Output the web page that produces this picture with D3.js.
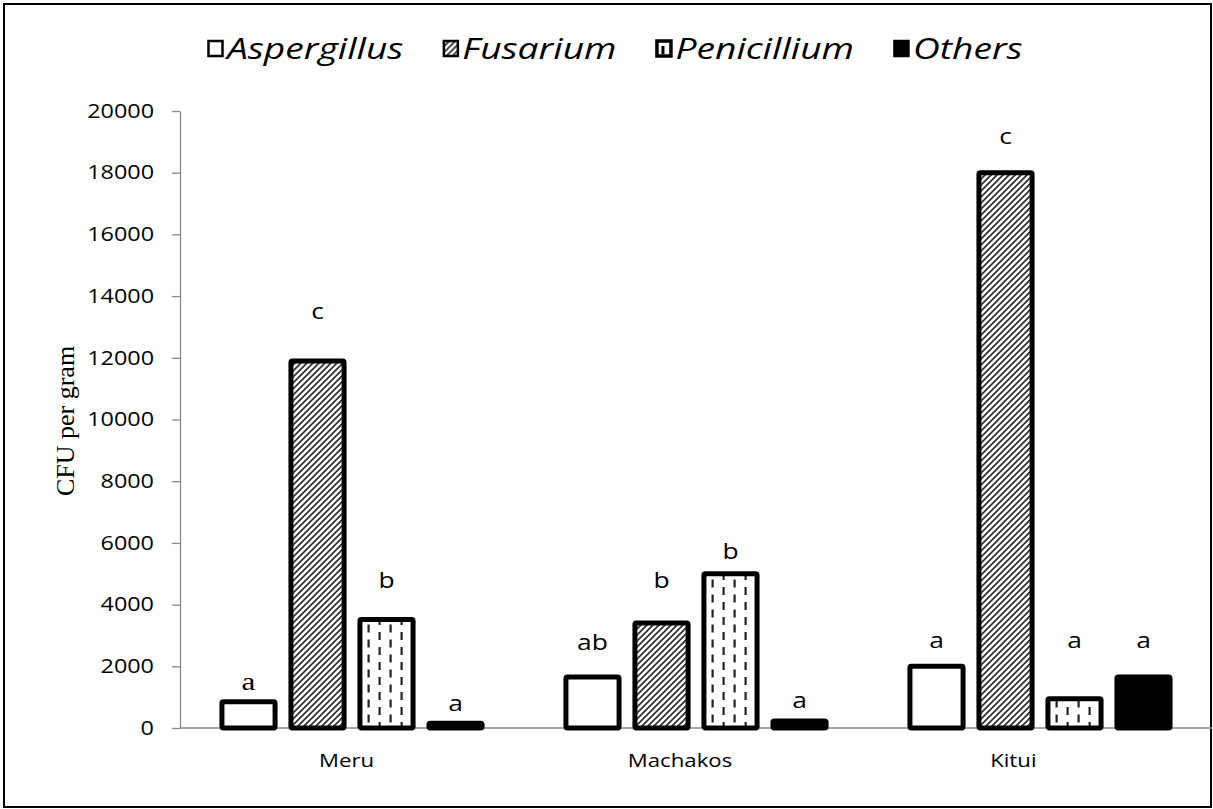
<!DOCTYPE html>
<html>
<head>
<meta charset="utf-8">
<script src="https://cdn.jsdelivr.net/npm/d3@7/dist/d3.min.js"></script>
<style>
  body { margin: 0; background: #fff; }
  svg { display: block; }
</style>
</head>
<body>
<svg id="chart" width="1213" height="809"></svg>
<script>
// ---- data ----
const categories = ["Meru", "Machakos", "Kitui"];
const seriesNames = ["Aspergillus", "Fusarium", "Penicillium", "Others"];
const aspergillus = [850, 1650, 2000];
const fusarium = [11900, 3400, 18000];
const penicillium = [3520, 5000, 950];
const others = [150, 230, 1650];
const letters = [
  ["a", "c", "b", "a"],
  ["ab", "b", "b", "a"],
  ["a", "c", "a", "a"]
];
// height (in CFU units) at which each significance letter sits
const letterHeights = [
  [1520, 13500, 4800, 810],
  [2790, 4800, 5740, 900],
  [2850, 19190, 2850, 2850]
];
const yTicks = [0, 2000, 4000, 6000, 8000, 10000, 12000, 14000, 16000, 18000, 20000];

const values = [aspergillus, fusarium, penicillium, others];

// ---- layout ----
const svg = d3.select("#chart");
const W = 1213, H = 809;
const SX = 1.2; // horizontal stretch of the text in the original
const SXL = 1.26; // legend stretch

const y = d3.scaleLinear().domain([0, 20000]).range([728, 111]);
const x0 = d3.scaleBand().domain(categories).range([180, 1212]).padding(0);
const xLab = d3.scaleBand().domain(categories).range([180, 1180]).padding(0);
const x1 = d3.scaleBand().domain(seriesNames).range([-138, 138]).paddingInner(0.23).paddingOuter(0.115);

// patterns
const defs = svg.append("defs");
const hatch = defs.append("pattern").attr("id", "hatch").attr("patternUnits", "userSpaceOnUse")
  .attr("width", 6).attr("height", 6);
hatch.append("rect").attr("width", 6).attr("height", 6).attr("fill", "#fff");
hatch.append("path").attr("d", "M-1,7 L7,-1 M-4,4 L4,-4 M2,10 L10,2")
  .attr("stroke", "#2a2a2a").attr("stroke-width", 1.6);

const dash = defs.append("pattern").attr("id", "dash").attr("patternUnits", "userSpaceOnUse")
  .attr("width", 22).attr("height", 15);
dash.append("rect").attr("width", 22).attr("height", 15).attr("fill", "#fff");
dash.append("rect").attr("x", 4.5).attr("y", 2).attr("width", 2.2).attr("height", 8).attr("fill", "#222");
dash.append("rect").attr("x", 15.5).attr("y", 9.5).attr("width", 2.2).attr("height", 8).attr("fill", "#222");
dash.append("rect").attr("x", 15.5).attr("y", -5.5).attr("width", 2.2).attr("height", 8).attr("fill", "#222");

const fills = { Aspergillus: "#fff", Fusarium: "url(#hatch)", Penicillium: "url(#dash)", Others: "#000" };

// outer frame
svg.append("rect").attr("x", 4).attr("y", 4).attr("width", W - 6).attr("height", H - 6)
  .attr("fill", "none").attr("stroke", "#000").attr("stroke-width", 2);

// y axis
const yAxis = svg.append("g").attr("transform", "translate(180,0)")
  .call(d3.axisLeft(y).tickValues(yTicks).tickSize(8).tickSizeOuter(0).tickFormat(d3.format("d")));
yAxis.select(".domain").attr("stroke", "#898989").attr("stroke-width", 1.3);
yAxis.selectAll(".tick line").attr("stroke", "#898989").attr("stroke-width", 1.3);
yAxis.selectAll(".tick text").attr("fill", "#000")
  .attr("x", 0).attr("transform", `translate(-26,0) scale(${SX},1)`)
  .style("font-family", "'Open Sans', sans-serif").style("font-size", "19.5px");

// baseline
svg.append("line").attr("x1", x0.range()[0]).attr("x2", x0.range()[1])
  .attr("y1", y(0)).attr("y2", y(0)).attr("stroke", "#898989").attr("stroke-width", 1.3);

// x axis labels
const xAxis = svg.append("g").attr("transform", `translate(0,${y(0)})`)
  .call(d3.axisBottom(xLab).tickSize(0).tickPadding(26));
xAxis.select(".domain").remove();
xAxis.selectAll(".tick text").attr("fill", "#000")
  .attr("transform", `scale(${SX},1)`)
  .style("font-family", "'Open Sans', sans-serif").style("font-size", "18.5px");

// y axis title
svg.append("text")
  .attr("transform", `translate(74,421) rotate(-90)`)
  .attr("text-anchor", "middle")
  .style("font-family", "'Liberation Serif', 'Times New Roman', serif")
  .style("font-size", "26px")
  .text("CFU per gram");

// bars
const groups = svg.append("g").selectAll("g").data(categories).join("g")
  .attr("transform", d => `translate(${x0(d) + x0.bandwidth() / 2},0)`);

groups.selectAll("rect").data((c, ci) => seriesNames.map((s, si) => ({ s, v: values[si][ci] })))
  .join("rect")
  .attr("x", d => x1(d.s))
  .attr("width", x1.bandwidth())
  .attr("y", d => y(d.v))
  .attr("height", d => y(0) - y(d.v))
  .attr("rx", 1.5)
  .attr("fill", d => fills[d.s])
  .attr("stroke", "#000")
  .attr("stroke-width", 5);

// letters
groups.selectAll("text.sig").data((c, ci) => seriesNames.map((s, si) => ({ s, t: letters[ci][si], h: letterHeights[ci][si], serif: ci === 0 && si === 0 })))
  .join("text").attr("class", "sig")
  .attr("transform", d => `translate(${x1(d.s) + x1.bandwidth() / 2},${y(d.h)}) scale(${SX},1)`)
  .attr("dy", "0.35em")
  .attr("text-anchor", "middle")
  .style("font-family", d => d.serif ? "'Liberation Serif', serif" : "'Open Sans', sans-serif")
  .style("font-size", d => d.serif ? "26px" : "22px")
  .text(d => d.t);

// legend (laid out sequentially by measured text width)
const leg = svg.append("g");
let lx = 207;
seriesNames.forEach(s => {
  const g = leg.append("g").attr("transform", `translate(${lx},0)`);
  g.append("rect").attr("x", 1.5).attr("y", 41).attr("width", 14).attr("height", 15)
    .attr("fill", s === "Penicillium" ? "#fff" : fills[s])
    .attr("stroke", "#000").attr("stroke-width", s === "Penicillium" ? 3.5 : 2.5);
  if (s === "Penicillium") {
    g.append("rect").attr("x", 6).attr("y", 46).attr("width", 3).attr("height", 8).attr("fill", "#000");
  }
  const t = g.append("text").attr("transform", `translate(20,59) scale(${SXL},1)`)
    .style("font-family", "'Open Sans', sans-serif").style("font-style", "italic").style("font-size", "29.5px")
    .text(s);
  const w = t.node().getComputedTextLength() * SXL;
  lx += 20 + w + 39;
});
</script>
</body>
</html>
